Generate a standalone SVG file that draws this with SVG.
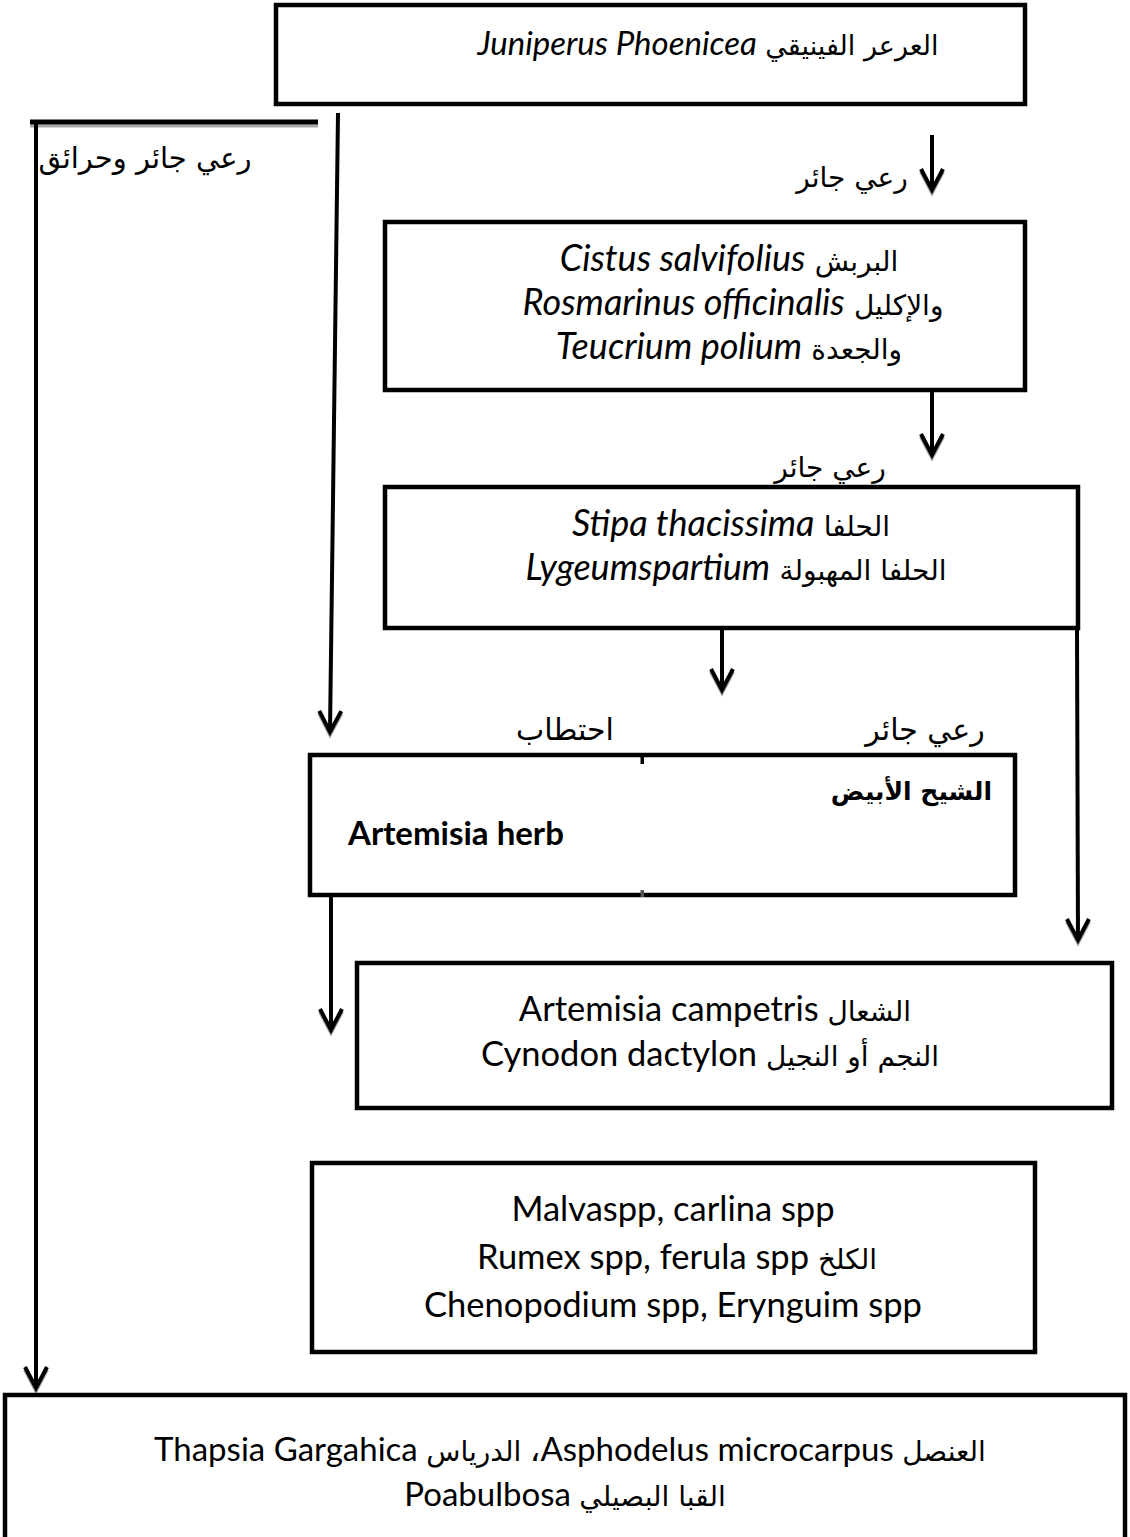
<svg xmlns="http://www.w3.org/2000/svg" width="1130" height="1537" viewBox="0 0 1130 1537">
<style>
.box{fill:#fff;stroke:#000;stroke-width:4.5}
.conn{stroke:#000;stroke-width:4;fill:none;stroke-linecap:butt}
.t{font-family:Lato,"DejaVu Sans",sans-serif;font-size:34.5px;fill:#000}
.ti{font-size:36px}
.it{font-style:italic}
.ar{font-family:"DejaVu Sans",sans-serif;font-size:28px;font-style:normal}
.lbl{font-family:"DejaVu Sans",sans-serif;font-size:28px;fill:#000}
.b{font-weight:bold}
</style>
<defs>
<marker id="arr" viewBox="-26 -14 34 28" refX="0" refY="0" markerWidth="34" markerHeight="28" markerUnits="userSpaceOnUse" orient="auto">
<path d="M-21,-11 L0,0 L-21,11" fill="none" stroke="#a0a0a0" stroke-width="4" transform="translate(2.5,0)"/>
<path d="M-21,-11 L0,0 L-21,11" fill="none" stroke="#000" stroke-width="4"/>
</marker>
</defs>
<rect width="1130" height="1537" fill="#fff"/>

<g id="connectors">
<line x1="30" y1="126" x2="318" y2="126" stroke="#a8a8a8" stroke-width="3"/>
<line x1="30" y1="122" x2="318" y2="122" stroke="#000" stroke-width="5"/>
<line class="conn" x1="36" y1="121" x2="36" y2="1388" marker-end="url(#arr)"/>
<line class="conn" x1="338" y1="113" x2="330" y2="732" marker-end="url(#arr)"/>
<line class="conn" x1="932" y1="135" x2="932" y2="190" marker-end="url(#arr)"/>
<line class="conn" x1="932" y1="392" x2="932" y2="455" marker-end="url(#arr)"/>
<line class="conn" x1="722" y1="630" x2="722" y2="690" marker-end="url(#arr)"/>
<line class="conn" x1="1077" y1="628" x2="1078" y2="940" marker-end="url(#arr)"/>
<line class="conn" x1="331" y1="897" x2="331" y2="1030" marker-end="url(#arr)"/>
</g>

<g id="labels">
<text class="lbl" x="145" y="168" text-anchor="middle" style="font-size:29px">رعي جائر وحرائق</text>
<text class="lbl" x="852" y="187" text-anchor="middle">رعي جائر</text>
<text class="lbl" x="830" y="477" text-anchor="middle">رعي جائر</text>
<text class="lbl" x="565" y="740" text-anchor="middle" style="font-size:30px">احتطاب</text>
<text class="lbl" x="925" y="740" text-anchor="middle" style="font-size:30px">رعي جائر</text>
</g>

<g id="node-juniperus">
<rect class="box" x="276" y="5" width="749" height="99"/>
<text class="t" x="708" y="55" text-anchor="middle" direction="rtl" style="font-size:33px"><tspan class="ar" style="font-size:27px">العرعر الفينيقي</tspan> <tspan class="it">Juniperus Phoenicea</tspan></text>
</g>

<g id="node-cistus">
<rect class="box" x="385" y="222" width="640" height="168"/>
<text class="t ti" x="729" y="271" text-anchor="middle" direction="rtl"><tspan class="ar">البربش</tspan> <tspan class="it">Cistus salvifolius</tspan></text>
<text class="t ti" x="733" y="315" text-anchor="middle" direction="rtl"><tspan class="ar">والإكليل</tspan> <tspan class="it">Rosmarinus officinalis</tspan></text>
<text class="t ti" x="729" y="359" text-anchor="middle" direction="rtl"><tspan class="ar">والجعدة</tspan> <tspan class="it">Teucrium polium</tspan></text>
</g>

<g id="node-stipa">
<rect class="box" x="385" y="487" width="693" height="141"/>
<text class="t ti" x="731" y="536" text-anchor="middle" direction="rtl"><tspan class="ar">الحلفا</tspan> <tspan class="it">Stipa thacissima</tspan></text>
<text class="t ti" x="736" y="580" text-anchor="middle" direction="rtl"><tspan class="ar">الحلفا المهبولة</tspan> <tspan class="it">Lygeumspartium</tspan></text>
</g>

<g id="node-artemisia-herb">
<rect class="box" x="310" y="755" width="705" height="140"/>
<rect x="640.5" y="757" width="3.5" height="7" fill="#000"/>
<rect x="640.5" y="890" width="3.5" height="7" fill="#555"/>
<text class="lbl b" x="992" y="800" text-anchor="end" style="font-size:25px">الشيح الأبيض</text>
<text class="t b" x="348" y="845" style="font-size:33px">Artemisia herb</text>
</g>

<g id="node-artemisia-campetris">
<rect class="box" x="357" y="963" width="755" height="145"/>
<text class="t" x="715" y="1021" text-anchor="middle" direction="rtl"><tspan class="ar">الشعال</tspan>  Artemisia campetris</text>
<text class="t" x="710" y="1066" text-anchor="middle" direction="rtl"><tspan class="ar">النجم أو النجيل</tspan> Cynodon dactylon</text>
</g>

<g id="node-malva">
<rect class="box" x="312" y="1163" width="723" height="189"/>
<text class="t" x="673" y="1221" text-anchor="middle">Malvaspp, carlina spp</text>
<text class="t" x="677" y="1269" text-anchor="middle" direction="rtl"><tspan class="ar">الكلخ</tspan> Rumex spp, ferula spp</text>
<text class="t" x="673" y="1317" text-anchor="middle">Chenopodium spp, Erynguim spp</text>
</g>

<g id="node-asphodelus">
<rect class="box" x="5" y="1395" width="1120" height="160"/>
<text class="t" x="570" y="1461" text-anchor="middle" direction="rtl" style="font-size:33px"><tspan class="ar">العنصل</tspan> Asphodelus microcarpus، <tspan class="ar">الدرياس</tspan> Thapsia Gargahica</text>
<text class="t" x="565" y="1506" text-anchor="middle" direction="rtl" style="font-size:33px"><tspan class="ar">القبا البصيلي</tspan> Poabulbosa</text>
</g>
</svg>
